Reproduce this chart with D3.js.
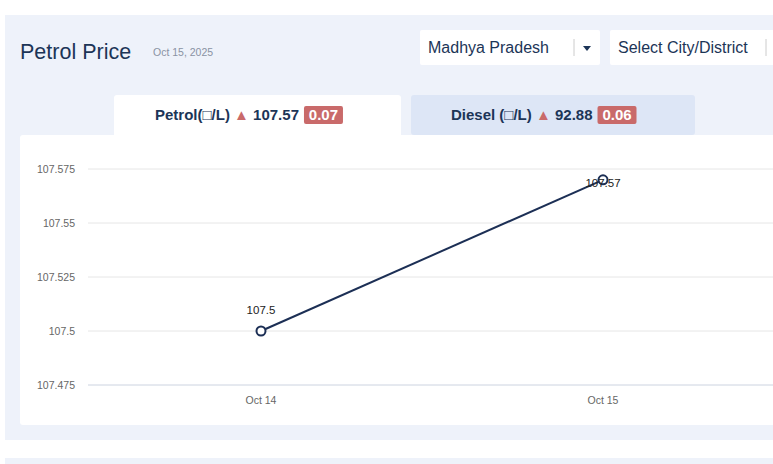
<!DOCTYPE html>
<html>
<head>
<meta charset="utf-8">
<script src="https://cdn.jsdelivr.net/npm/d3@7"></script>
<style>
  body { margin: 0; background: #fff; font-family: Arial, "Liberation Sans", sans-serif; }
</style>
</head>
<body>
<svg id="chart" width="773" height="464"></svg>
<script>
const dates = ["Oct 14", "Oct 15"];
const prices = [107.5, 107.57];
const yTicks = [107.475, 107.5, 107.525, 107.55, 107.575];

const svg = d3.select("#chart");

// panels
svg.append("rect").attr("x", 5).attr("y", 15).attr("width", 780).attr("height", 425).attr("fill", "#eef2fa");
svg.append("rect").attr("x", 5).attr("y", 458).attr("width", 780).attr("height", 20).attr("fill", "#eef2fa");

svg.append("text").attr("x", 20).attr("y", 59).attr("font-size", 21.5).attr("fill", "#1c3557").text("Petrol Price");
svg.append("text").attr("x", 153).attr("y", 56).attr("font-size", 10.5).attr("fill", "#8a93a3").text("Oct 15, 2025");

// dropdowns
svg.append("rect").attr("x", 420).attr("y", 30).attr("width", 180).attr("height", 35).attr("fill", "#fff").attr("rx", 2);
svg.append("text").attr("x", 428).attr("y", 53).attr("font-size", 16).attr("fill", "#1c3557").text("Madhya Pradesh");
svg.append("line").attr("x1", 574).attr("x2", 574).attr("y1", 39).attr("y2", 56).attr("stroke", "#ccc");
svg.append("path").attr("d", "M583,46 L591,46 L587,51 Z").attr("fill", "#1c3557");
svg.append("rect").attr("x", 610).attr("y", 30).attr("width", 180).attr("height", 35).attr("fill", "#fff").attr("rx", 2);
svg.append("text").attr("x", 618).attr("y", 53).attr("font-size", 16).attr("fill", "#1c3557").text("Select City/District");
svg.append("line").attr("x1", 766).attr("x2", 766).attr("y1", 39).attr("y2", 56).attr("stroke", "#ccc");

// tabs
svg.append("rect").attr("x", 114).attr("y", 95).attr("width", 287).attr("height", 45).attr("fill", "#fff").attr("rx", 3);
svg.append("rect").attr("x", 411).attr("y", 95).attr("width", 284).attr("height", 40).attr("fill", "#dde6f6").attr("rx", 3);

function tab(x, label, val) {
  const t = svg.append("text").attr("x", x).attr("y", 120).attr("font-size", 15).attr("font-weight", "bold").attr("fill", "#1c3557");
  t.append("tspan").text(label + " ");
  t.append("tspan").attr("fill", "#c96a6a").text("\u25B2");
  t.append("tspan").text(" " + val);
  return t;
}
const t1 = tab(155, "Petrol(\u25A1/L)", "107.57");
const t2 = tab(451, "Diesel (\u25A1/L)", "92.88");
[[t1, "0.07"], [t2, "0.06"]].forEach(([t, c]) => {
  const b = t.node().getBBox();
  const x = b.x + b.width + 5;
  svg.append("rect").attr("x", x).attr("y", 106).attr("width", 39).attr("height", 18).attr("fill", "#c96a6a").attr("rx", 2);
  svg.append("text").attr("x", x + 19.5).attr("y", 120).attr("text-anchor", "middle").attr("font-size", 15).attr("font-weight", "bold").attr("fill", "#fff").text(c);
});

// chart box
svg.append("rect").attr("x", 20).attr("y", 135).attr("width", 760).attr("height", 290).attr("fill", "#fff").attr("rx", 3);

const x = d3.scalePoint().domain(dates).range([90, 774]).padding(0.5);
const y = d3.scaleLinear().domain([107.475, 107.575]).range([385, 169]);

const g = svg.append("g");
g.selectAll(".grid").data(yTicks).enter().append("line")
  .attr("x1", 88).attr("x2", 773)
  .attr("y1", d => y(d)).attr("y2", d => y(d))
  .attr("stroke", d => d === 107.475 ? "#ccd3e0" : "#e6e6e6");

g.selectAll(".yl").data(yTicks).enter().append("text")
  .attr("x", 75).attr("y", d => y(d) + 4).attr("text-anchor", "end")
  .attr("font-size", 10.5).attr("fill", "#666").text(d => d);

g.selectAll(".xl").data(dates).enter().append("text")
  .attr("x", d => x(d)).attr("y", 404).attr("text-anchor", "middle")
  .attr("font-size", 10.5).attr("fill", "#666").text(d => d);

const pts = dates.map((d, i) => ({ d, v: prices[i] }));
g.append("path").datum(pts)
  .attr("d", d3.line().x(p => x(p.d)).y(p => y(p.v)))
  .attr("fill", "none").attr("stroke", "#1c2f55").attr("stroke-width", 2);

g.selectAll(".pt").data(pts).enter().append("circle")
  .attr("cx", p => x(p.d)).attr("cy", p => y(p.v)).attr("r", 4.5)
  .attr("fill", "#fff").attr("stroke", "#1c2f55").attr("stroke-width", 2);

g.selectAll(".lbl").data(pts).enter().append("text")
  .attr("x", p => x(p.d)).attr("y", (p, i) => i === 0 ? y(p.v) - 17 : y(p.v) + 7)
  .attr("text-anchor", "middle").attr("font-size", 11.5).attr("fill", "#222").text(p => p.v);
</script>
</body>
</html>
